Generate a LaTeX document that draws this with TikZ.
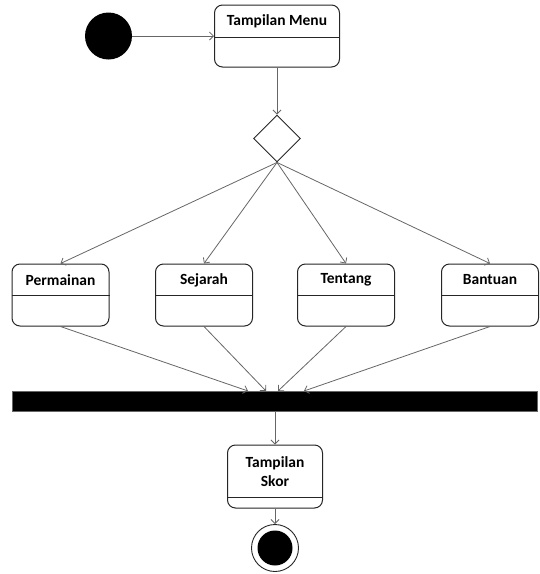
\documentclass[tikz,border=0pt]{standalone}
\usepackage{fontspec}
\setmainfont{Carlito}
\usetikzlibrary{arrows.meta,shapes.geometric}
\begin{document}
\begin{tikzpicture}[x=1pt,y=-1pt,
  box/.style={draw=black!85, line width=1pt, rounded corners=8pt, fill=white, inner sep=0pt},
  lbl/.style={font=\bfseries\fontsize{15.5}{19}\selectfont, align=center, inner sep=0pt},
  conn/.style={draw=black!60, line width=0.8pt, -{Straight Barb[length=4pt,width=8pt]}},
  div/.style={draw=black!85, line width=1pt}]
\useasboundingbox (0,0) rectangle (540,574);
% start
\node[circle, fill=black, minimum size=47pt, inner sep=0pt] (start) at (108.5,36) {};
% menu
\node[box, minimum width=125pt, minimum height=62pt] (menu) at (277,36) {};
\draw[div] (menu.west |- 0,37) -- (menu.east |- 0,37);
\node[lbl] (menuT) at (277,21) {Tampilan Menu};
% decision
\node[diamond, draw=black!85, line width=0.9pt, minimum width=47pt, minimum height=47pt, inner sep=0pt, aspect=1] (dec) at (277,138.5) {};
% activities
\foreach \n/\x/\t in {perm/60.5/Permainan, sej/204/Sejarah, ten/346/Tentang, ban/490/Bantuan}{
  \node[box, minimum width=97pt, minimum height=62pt] (\n) at (\x,295) {};
  \draw[div] (\n.west |- 0,295) -- (\n.east |- 0,295);
  \node[lbl] (\n T) at (\x,280) {\t};
}
% bar
\node[fill=black, draw=black!60, minimum width=525pt, minimum height=20pt, inner sep=0pt] (bar) at (274.5,401) {};
\coordinate (j1) at (248,391);
\coordinate (j2) at (266,391);
\coordinate (j3) at (278,391);
\coordinate (j4) at (304,391);
% skor
\node[box, minimum width=95pt, minimum height=63pt] (skor) at (275,476.5) {};
\draw[div] (skor.west |- 0,497) -- (skor.east |- 0,497);
\node[lbl] (skorT) at (275,472) {Tampilan\\Skor};
% end
\node[circle, draw=black!85, line width=0.9pt, fill=white, minimum size=47pt, inner sep=0pt] (endo) at (275,548) {};
\node[circle, fill=black, minimum size=35pt, inner sep=0pt] (endi) at (275,548) {};
% connectors
\draw[conn] (start) -- (menu.west |- start);
\draw[conn] (menu.south) -- (dec.north);
\foreach \n in {perm,sej,ten,ban}{ \draw[conn] (dec.south) -- (\n.north); }
\draw[conn] (perm.south) -- (j1);
\draw[conn] (sej.south) -- (j2);
\draw[conn] (ten.south) -- (j3);
\draw[conn] (ban.south) -- (j4);
\draw[conn] (bar.south -| skor.north) -- (skor.north);
\draw[conn] (skor.south) -- (endo.north);
\end{tikzpicture}
\end{document}
